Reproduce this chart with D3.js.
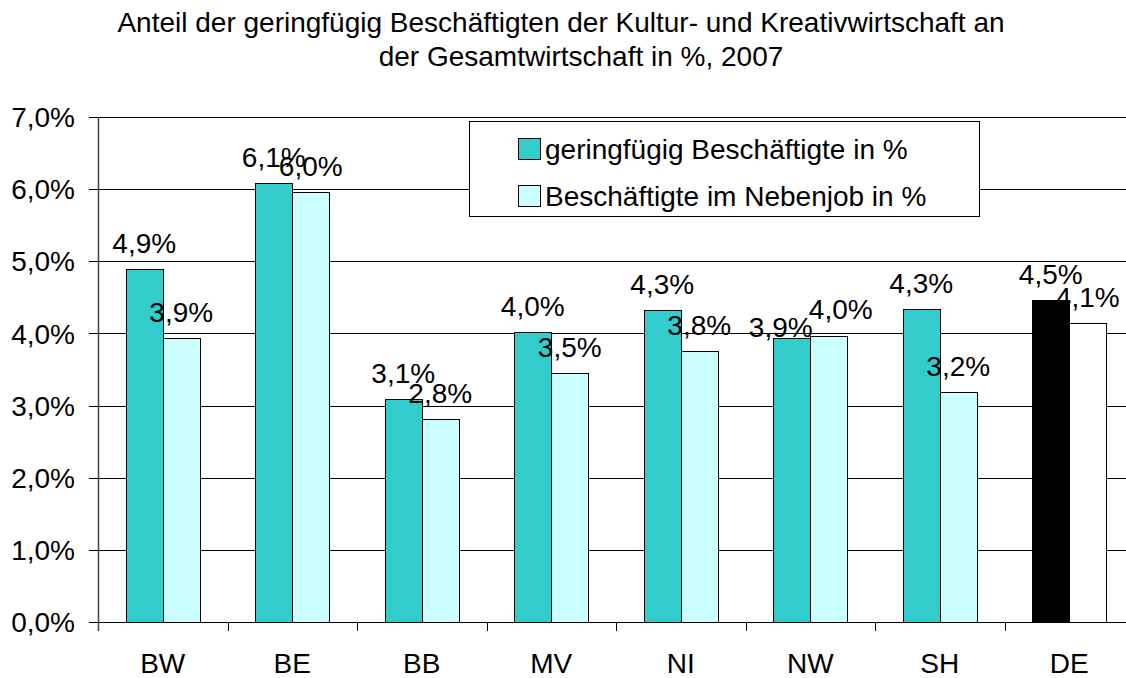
<!DOCTYPE html>
<html>
<head>
<meta charset="utf-8">
<script src="https://cdn.jsdelivr.net/npm/d3@7"></script>
<style>
  html, body { margin: 0; padding: 0; background: #fff; }
  svg { display: block; font-family: "Liberation Sans", Arial, sans-serif; }
</style>
</head>
<body>
<svg id="chart" width="1126" height="678"></svg>
<script>
// data
var categories = ['BW', 'BE', 'BB', 'MV', 'NI', 'NW', 'SH', 'DE'];
var geringfuegig = [4.89, 6.08, 3.09, 4.02, 4.33, 3.93, 4.34, 4.47];
var nebenjob = [3.93, 5.96, 2.81, 3.45, 3.76, 3.97, 3.19, 4.14];
var seriesNames = ['geringfügig Beschäftigte in %', 'Beschäftigte im Nebenjob in %'];
var yTicks = [0, 1, 2, 3, 4, 5, 6, 7];
var titleLines = ['Anteil der geringfügig Beschäftigten der Kultur- und Kreativwirtschaft an',
                  'der Gesamtwirtschaft in %, 2007'];

var colors = ['#33cccc', '#ccffff'],
    deColors = ['#000000', '#ffffff'];

// labels that were dragged by hand in the original (dx, dy)
var labelNudge = {'NW-0': [-11, 15], 'NW-1': [12, -1]};

var svg = d3.select('#chart');
// plot box (right edge runs past the window like the original)
var plotL = 98, plotT = 117, plotB = 622, band = 129.5;
var plotR = plotL + band * categories.length;

var x = d3.scaleBand().domain(categories).range([plotL, plotR]).paddingInner(0).paddingOuter(0);
var inner = d3.scaleBand().domain([0, 1]).range([0, 74]);
var y = d3.scaleLinear().domain([0, 7]).range([plotB, plotT]);

var fmt = function(v){ return (Math.round(v * 10) / 10).toFixed(1).replace('.', ',') + '%'; };
var crisp = function(v){ return Math.round(v) + 0.5; };

// title
svg.append('g').selectAll('text')
   .data(titleLines)
   .enter().append('text')
   .attr('x', (d,i)=>i ? 581 : 561)
   .attr('y', (d,i)=>32 + i*34)
   .attr('text-anchor', 'middle')
   .style('font-size', '28px')
   .text(d=>d);

// gridlines
svg.append('g').selectAll('line')
   .data(yTicks.filter(d=>d>0))
   .enter().append('line')
   .attr('x1', plotL).attr('x2', 1126)
   .attr('y1', d=>crisp(y(d))).attr('y2', d=>crisp(y(d)))
   .style('stroke', '#000').style('stroke-width', 1);

// y axis
var yAxis = svg.append('g');
yAxis.append('line')
     .attr('x1', crisp(plotL)).attr('x2', crisp(plotL))
     .attr('y1', plotT).attr('y2', plotB + 9)
     .style('stroke', '#444').style('stroke-width', 1.5);
yAxis.selectAll('line.tick')
     .data(yTicks)
     .enter().append('line').attr('class', 'tick')
     .attr('x1', plotL - 9).attr('x2', plotL)
     .attr('y1', d=>crisp(y(d))).attr('y2', d=>crisp(y(d)))
     .style('stroke', '#000');
yAxis.selectAll('text')
     .data(yTicks)
     .enter().append('text')
     .attr('x', 75)
     .attr('y', d=>y(d))
     .attr('dy', '0.36em')
     .attr('text-anchor', 'end')
     .style('font-size', '28px')
     .text(d=>d.toFixed(1).replace('.', ',') + '%');

// x axis
var xAxis = svg.append('g');
xAxis.append('line')
     .attr('x1', plotL).attr('x2', 1126)
     .attr('y1', crisp(plotB)).attr('y2', crisp(plotB))
     .style('stroke', '#000');
xAxis.selectAll('line.tick')
     .data(categories.slice(1))
     .enter().append('line').attr('class', 'tick')
     .attr('x1', d=>crisp(x(d))).attr('x2', d=>crisp(x(d)))
     .attr('y1', plotB).attr('y2', plotB + 9)
     .style('stroke', '#000');
xAxis.selectAll('text')
     .data(categories)
     .enter().append('text')
     .attr('x', d=>x(d) + band/2)
     .attr('y', 673)
     .attr('text-anchor', 'middle')
     .style('font-size', '28px')
     .text(d=>d);

// bars
var bars = [];
categories.forEach(function(c, i){
    [geringfuegig[i], nebenjob[i]].forEach(function(v, s){
        bars.push({cat: c, s: s, v: v});
    });
});
var offset = (band - 74) / 2;
svg.append('g').selectAll('rect')
   .data(bars)
   .enter().append('rect')
   .attr('x', d=>Math.round(x(d.cat) + offset + inner(d.s)) + 0.5)
   .attr('y', d=>Math.round(y(d.v)) + 0.5)
   .attr('width', inner.bandwidth())
   .attr('height', d=>Math.round(plotB) - Math.round(y(d.v)))
   .style('fill', d=>d.cat === 'DE' ? deColors[d.s] : colors[d.s])
   .style('stroke', '#000').style('stroke-width', 1);

// value labels
var nudge = d=>labelNudge[d.cat + '-' + d.s] || [0, 0];
svg.append('g').selectAll('text')
   .data(bars)
   .enter().append('text')
   .attr('x', d=>x(d.cat) + offset + inner(d.s) + inner.bandwidth()/2 + nudge(d)[0])
   .attr('y', d=>y(d.v) - 16 + nudge(d)[1])
   .attr('text-anchor', 'middle')
   .style('font-size', '28px')
   .text(d=>fmt(d.v));

// legend
var legend = svg.append('g');
legend.append('rect')
      .attr('x', 469.5).attr('y', 121.5)
      .attr('width', 510).attr('height', 95)
      .style('fill', '#fff').style('stroke', '#000');
var items = legend.selectAll('g')
      .data(seriesNames)
      .enter().append('g')
      .attr('transform', (d,i)=>'translate(518,' + (149 + i*47) + ')');
items.append('rect')
     .attr('x', 0.5).attr('y', -10.5)
     .attr('width', 22).attr('height', 21)
     .style('fill', (d,i)=>colors[i]).style('stroke', '#000');
items.append('text')
     .attr('x', 27).attr('y', 0).attr('dy', '0.36em')
     .style('font-size', '28px')
     .text(d=>d);
</script>
</body>
</html>
